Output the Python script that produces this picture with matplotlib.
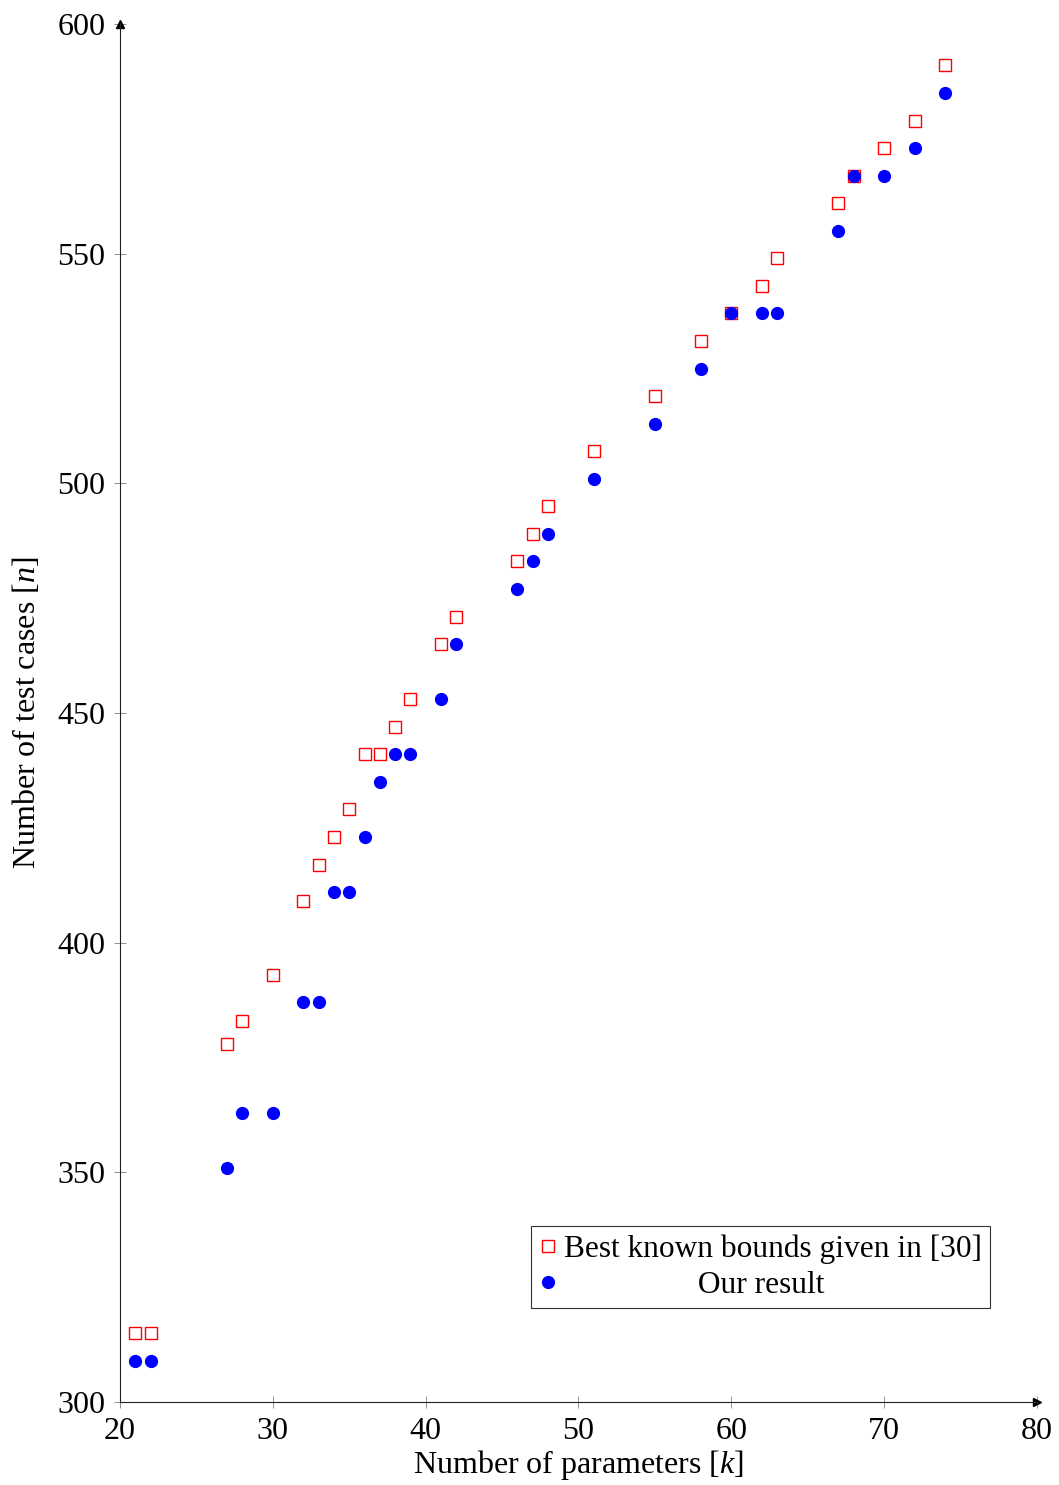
import matplotlib
matplotlib.use("Agg")
import matplotlib.pyplot as plt

plt.rcParams['font.family'] = ['Liberation Serif', 'DejaVu Serif']
plt.rcParams['mathtext.fontset'] = 'custom'
plt.rcParams['mathtext.rm'] = 'Liberation Serif'
plt.rcParams['mathtext.it'] = 'Liberation Serif:italic'

# number of parameters k
k = [21, 22, 27, 28, 30, 32, 33, 34, 35, 36, 37, 38, 39, 41, 42,
     46, 47, 48, 51, 55, 58, 60, 62, 63, 67, 68, 70, 72, 74]
# best known bounds
best = [315, 315, 378, 383, 393, 409, 417, 423, 429, 441, 441, 447, 453, 465, 471,
        483, 489, 495, 507, 519, 531, 537, 543, 549, 561, 567, 573, 579, 591]
# our result
ours = [309, 309, 351, 363, 363, 387, 387, 411, 411, 423, 435, 441, 441, 453, 465,
        477, 483, 489, 501, 513, 525, 537, 537, 537, 555, 567, 567, 573, 585]

xticks = [20, 30, 40, 50, 60, 70, 80]
yticks = [300, 350, 400, 450, 500, 550, 600]

fig = plt.figure(figsize=(10.59, 14.85), dpi=100)
ax = fig.add_axes([0.1133, 0.0559, 0.8659, 0.9279])

ax.plot(k, best, ls='none', marker='s', ms=8, mfc='white', mec='#ff0000', mew=1.0,
        label='Best known bounds given in [30]')
ax.plot(k, ours, ls='none', marker='o', ms=8.5, color='blue', mec='blue',
        label='                 Our result')

ax.set_xlim(20, 80)
ax.set_ylim(300, 600)
ax.set_xticks(xticks)
ax.set_yticks(yticks)
ax.tick_params(direction='inout', length=9, width=0.6, color='gray',
               labelsize=23, pad=6)

ax.spines['top'].set_visible(False)
ax.spines['right'].set_visible(False)
for s in ['left', 'bottom']:
    ax.spines[s].set_linewidth(0.8)
    ax.spines[s].set_color('#222222')

# arrow heads
ax.plot(1, 0, '>', color='black', ms=6, transform=ax.transAxes, clip_on=False)
ax.plot(0, 1, '^', color='black', ms=6, transform=ax.transAxes, clip_on=False)

ax.set_xlabel('Number of parameters [$k$]', fontsize=23, labelpad=2)
ax.set_ylabel('Number of test cases [$n$]', fontsize=23, labelpad=11)

leg = ax.legend(loc='lower right', bbox_to_anchor=(0.9486, 0.068), fontsize=22.6,
                frameon=True, fancybox=False, edgecolor='black',
                handlelength=0.6, handletextpad=0.2, borderpad=0.25,
                labelspacing=0.25, borderaxespad=0)
leg.get_frame().set_linewidth(0.8)

fig.savefig('out.png', dpi=100)
